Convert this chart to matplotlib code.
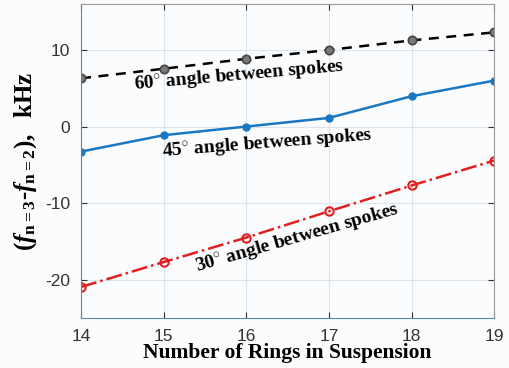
import numpy as np
import matplotlib.pyplot as plt

plt.rcParams['mathtext.fontset'] = 'custom'
plt.rcParams['mathtext.rm'] = 'Liberation Serif:bold'
plt.rcParams['mathtext.it'] = 'Liberation Serif:italic:bold'
plt.rcParams['mathtext.bf'] = 'Liberation Serif:bold'
plt.rcParams['axes.unicode_minus'] = False

rings = [14, 15, 16, 17, 18, 19]
deg60 = [6.3, 7.55, 8.85, 10.0, 11.25, 12.3]
deg45 = [-3.27, -1.13, 0.0, 1.13, 3.96, 6.0]
deg30 = [-20.95, -17.7, -14.5, -11.07, -7.7, -4.44]

fig = plt.figure(figsize=(5.1, 3.68), dpi=100)
fig.patch.set_facecolor('#fbfcfe')
ax = fig.add_axes([0.159, 0.136, 0.81, 0.853])
ax.set_facecolor('#fbfcfe')

ax.plot(rings, deg60, '--', color='black', lw=1.8, dashes=(4, 3),
        marker='o', ms=6, mfc='#7a7a7a', mec='#444444', mew=1.2)
ax.plot(rings, deg45, '-', color='#1a78c2', lw=1.8,
        marker='o', ms=5, mfc='#1a78c2', mec='#1a78c2')
ax.plot(rings, deg30, '-.', color='#e02020', lw=1.8,
        marker='o', ms=6, mfc='none', mec='#e02020', mew=1.5)

ax.set_xlim(14, 19)
ax.set_ylim(-25, 16)
ax.set_xticks(rings)
ax.set_yticks([-20, -10, 0, 10])
ax.grid(True, color='#dde3ea', lw=0.8)
ax.tick_params(direction='in', top=True, right=True, labelsize=12.5,
               colors='#333333', length=4, pad=8)
for lab in ax.get_xticklabels() + ax.get_yticklabels():
    lab.set_family('Liberation Sans')
for s in ['left', 'bottom']:
    ax.spines[s].set_color('#5a86a8')
for s in ['top', 'right']:
    ax.spines[s].set_color('#999999')

ax.set_xlabel('Number of Rings in Suspension', family='Liberation Serif',
              fontweight='bold', fontsize=15.5, labelpad=-1)
ax.set_ylabel(r'$(\mathit{f}_{\mathrm{n{=}3}}$-$\mathit{f}_{\mathrm{n{=}2}}),$  kHz',
              family='Liberation Serif', fontweight='bold', fontsize=18, labelpad=4)

tkw = dict(family='Liberation Serif', fontweight='bold', fontsize=14,
           ha='center', va='center')
ax.text(15.91, 6.6, r'60$^{\circ}$ angle between spokes', rotation=5, **tkw)
ax.text(16.26, -2.3, r'45$^{\circ}$ angle between spokes', rotation=4.5, **tkw)
ax.text(16.62, -14.6, r'30$^{\circ}$ angle between spokes', rotation=16, **tkw)

fig.savefig('out.png', dpi=100, facecolor=fig.get_facecolor())
